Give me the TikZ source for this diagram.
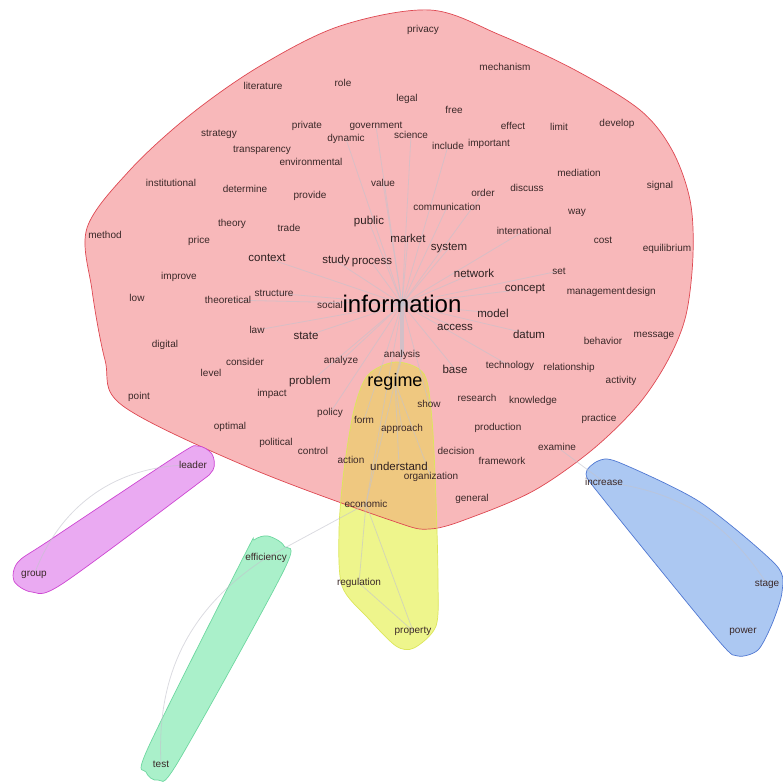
\documentclass[tikz,border=0pt]{standalone}
\usepackage{fontspec}
\setmainfont{Liberation Sans}
\usepackage{xcolor}
\usepackage{tikz}
\usetikzlibrary{calc}
\definecolor{hullred}{RGB}{248,184,186}
\definecolor{linered}{RGB}{222,72,82}
\definecolor{hullyellow}{RGB}{238,245,140}
\definecolor{lineyellow}{RGB}{220,230,90}
\definecolor{hullorange}{RGB}{239,200,128}
\definecolor{hullpink}{RGB}{234,170,242}
\definecolor{linepink}{RGB}{205,70,210}
\definecolor{hullgreen}{RGB}{170,240,202}
\definecolor{linegreen}{RGB}{110,215,160}
\definecolor{hullblue}{RGB}{172,200,242}
\definecolor{lineblue}{RGB}{80,120,210}
\definecolor{wordink}{RGB}{58,40,40}
\definecolor{linkgray}{RGB}{195,195,205}
\pgfdeclarelayer{hulls}
\pgfdeclarelayer{links}
\pgfsetlayers{hulls,links,main}
\tikzset{
  word/.style={inner sep=0pt, text=wordink, font=\fontsize{10}{12}\selectfont},
  midword/.style={inner sep=0pt, text=wordink!80!black, font=\fontsize{11.5}{13}\selectfont},
  bigword/.style={inner sep=0pt, text=black, font=\fontsize{18}{20}\selectfont},
  hubword/.style={inner sep=0pt, text=black, font=\fontsize{24}{26}\selectfont},
  link/.style={draw=linkgray, line width=0.8pt, opacity=0.6},
  hull/.style={line width=0.7pt}
}
% hull outlines
\def\redhull{plot[smooth cycle, tension=.55] coordinates {(430,10) (500,35) (575,70) (640,110) (672,150) (690,200) (693,255) (686,315) (668,360) (638,405) (592,450) (535,490) (475,516) (430,529) (390,520) (250,468) (123,406) (105,360) (92,290) (87,228) (130,170) (190,115) (260,66) (340,26)}}
\def\yellowhull{plot[smooth cycle, tension=.5] coordinates {(396,362) (424,374) (432,420) (436,500) (438,580) (436,626) (414,648) (396,646) (368,618) (342,586) (339,530) (344,470) (354,410) (368,375)}}

\begin{document}
\begin{tikzpicture}[x=1pt, y=-1pt]
  \useasboundingbox (0,0) rectangle (783,782);

  % cluster hulls
  \begin{pgfonlayer}{hulls}
    \fill[hullred] \redhull;
    \fill[hullyellow] \yellowhull;
    \begin{scope}
      \clip \redhull;
      \fill[hullorange] \yellowhull;
    \end{scope}
    \draw[hull, linered] \redhull;
    \draw[hull, lineyellow] \yellowhull;
    \draw[hull, draw=linepink, fill=hullpink] plot[smooth cycle, tension=.5] coordinates {(198,446) (212,454) (213,470) (192,488) (62,584) (32,592) (14,581) (18,562) (50,540) (178,455)};
    \draw[hull, draw=linegreen, fill=hullgreen] plot[smooth cycle, tension=.5] coordinates {(268,536) (284,546) (284,570) (178,762) (158,780) (146,772) (148,748) (244,556) (254,540)};
    \draw[hull, draw=lineblue, fill=hullblue] plot[smooth cycle, tension=.45] coordinates {(598,461) (618,462) (700,502) (776,565) (782,592) (772,624) (758,650) (738,656) (718,640) (604,500) (586,474)};
  \end{pgfonlayer}

  % words in the big cluster
  \foreach \n/\x/\y in {privacy/423/30, literature/263/86, role/343/83, mechanism/505/67,
      legal/407/99, free/454/110, strategy/219/134, private/307/126, government/376/126,
      dynamic/346/139, science/411/135, include/448/146, important/489/144, effect/513/126,
      limit/559/127, develop/617/124, transparency/262/150, environmental/311/162,
      institutional/171/183, determine/245/189, provide/310/196, value/383/183, order/483/193,
      discuss/527/188, mediation/579/173, signal/660/186, communication/447/207, way/577/213,
      international/524/231, cost/603/240, equilibrium/667/249, set/559/271,
      management/596/292, design/641/292, behavior/603/341, message/654/336,
      theory/232/224, trade/289/228, method/105/235, price/199/241, improve/179/277,
      low/137/298, theoretical/228/300, structure/274/293, social/330/305, law/257/330,
      digital/165/345, consider/245/362, level/211/373, impact/272/394, point/139/397,
      analyze/341/361, analysis/402/355, policy/330/413, form/364/420, optimal/230/427,
      political/276/443, control/313/451, action/351/460, organization/431/477,
      approach/402/429, show/429/404, economic/366/504, decision/456/451,
      framework/502/461, general/472/499, research/477/398, knowledge/533/401,
      production/498/428, examine/557/447, practice/599/419, activity/621/381,
      technology/510/366, relationship/569/368}
    \node[word] (\n) at (\x,\y) {\n};

  % larger words
  \foreach \n/\x/\y in {public/369/222, market/408/238, system/449/248, study/336/261,
      process/372/263, context/267/258, network/474/273, concept/525/289, model/493/313,
      access/455/327, datum/529/334, state/306/336, problem/310/382, base/455/369,
      understand/399/466}
    \node[midword] (\n) at (\x,\y) {\n};

  \node[bigword] (regime) at (395,382) {regime};
  \node[hubword] (information) at (402,304) {information};

  % small clusters
  \node[word] (leader) at (193,465) {leader};
  \node[word] (group) at (34,575) {group};
  \node[word] (efficiency) at (266,558) {efficiency};
  \node[word] (test) at (161,764) {test};
  \node[word] (regulation) at (359,583) {regulation};
  \node[word] (property) at (413,631) {property};
  \node[word] (increase) at (604,482) {increase};
  \node[word] (stage) at (767,584) {stage};
  \node[word] (power) at (743,632) {power};

  % links
  \begin{pgfonlayer}{links}
    \foreach \w in {market, system, public, process, study, network, access, model, state,
        structure, context, communication, value, government, science, international,
        concept, analyze, base, datum, problem, policy, form, show, economic, dynamic,
        order, include, theoretical, law, technology, set}
      \draw[link] (information.center) -- (\w.center);
    \draw[link, line width=4pt, opacity=.7] (information.center) -- (analysis.center);
    \draw[link, line width=2pt] (analysis.center) -- (regime.center);
    \foreach \w in {approach, understand, economic, organization}
      \draw[link] (regime.center) -- (\w.center);
    \draw[link] (economic.center) -- (regulation.center);
    \draw[link] (economic.center) -- (property.center);
    \draw[link] (regulation.center) -- (property.center);
    \draw[link] (leader.center) to[bend right=35] (group.center);
    \draw[link] (efficiency.center) to[bend right=30] (test.center);
    \draw[link] (efficiency.center) -- (economic.center);
    \draw[link] (increase.center) to[bend left=25] (stage.center);
    \draw[link] (increase.center) -- (examine.center);
  \end{pgfonlayer}
\end{tikzpicture}
\end{document}
